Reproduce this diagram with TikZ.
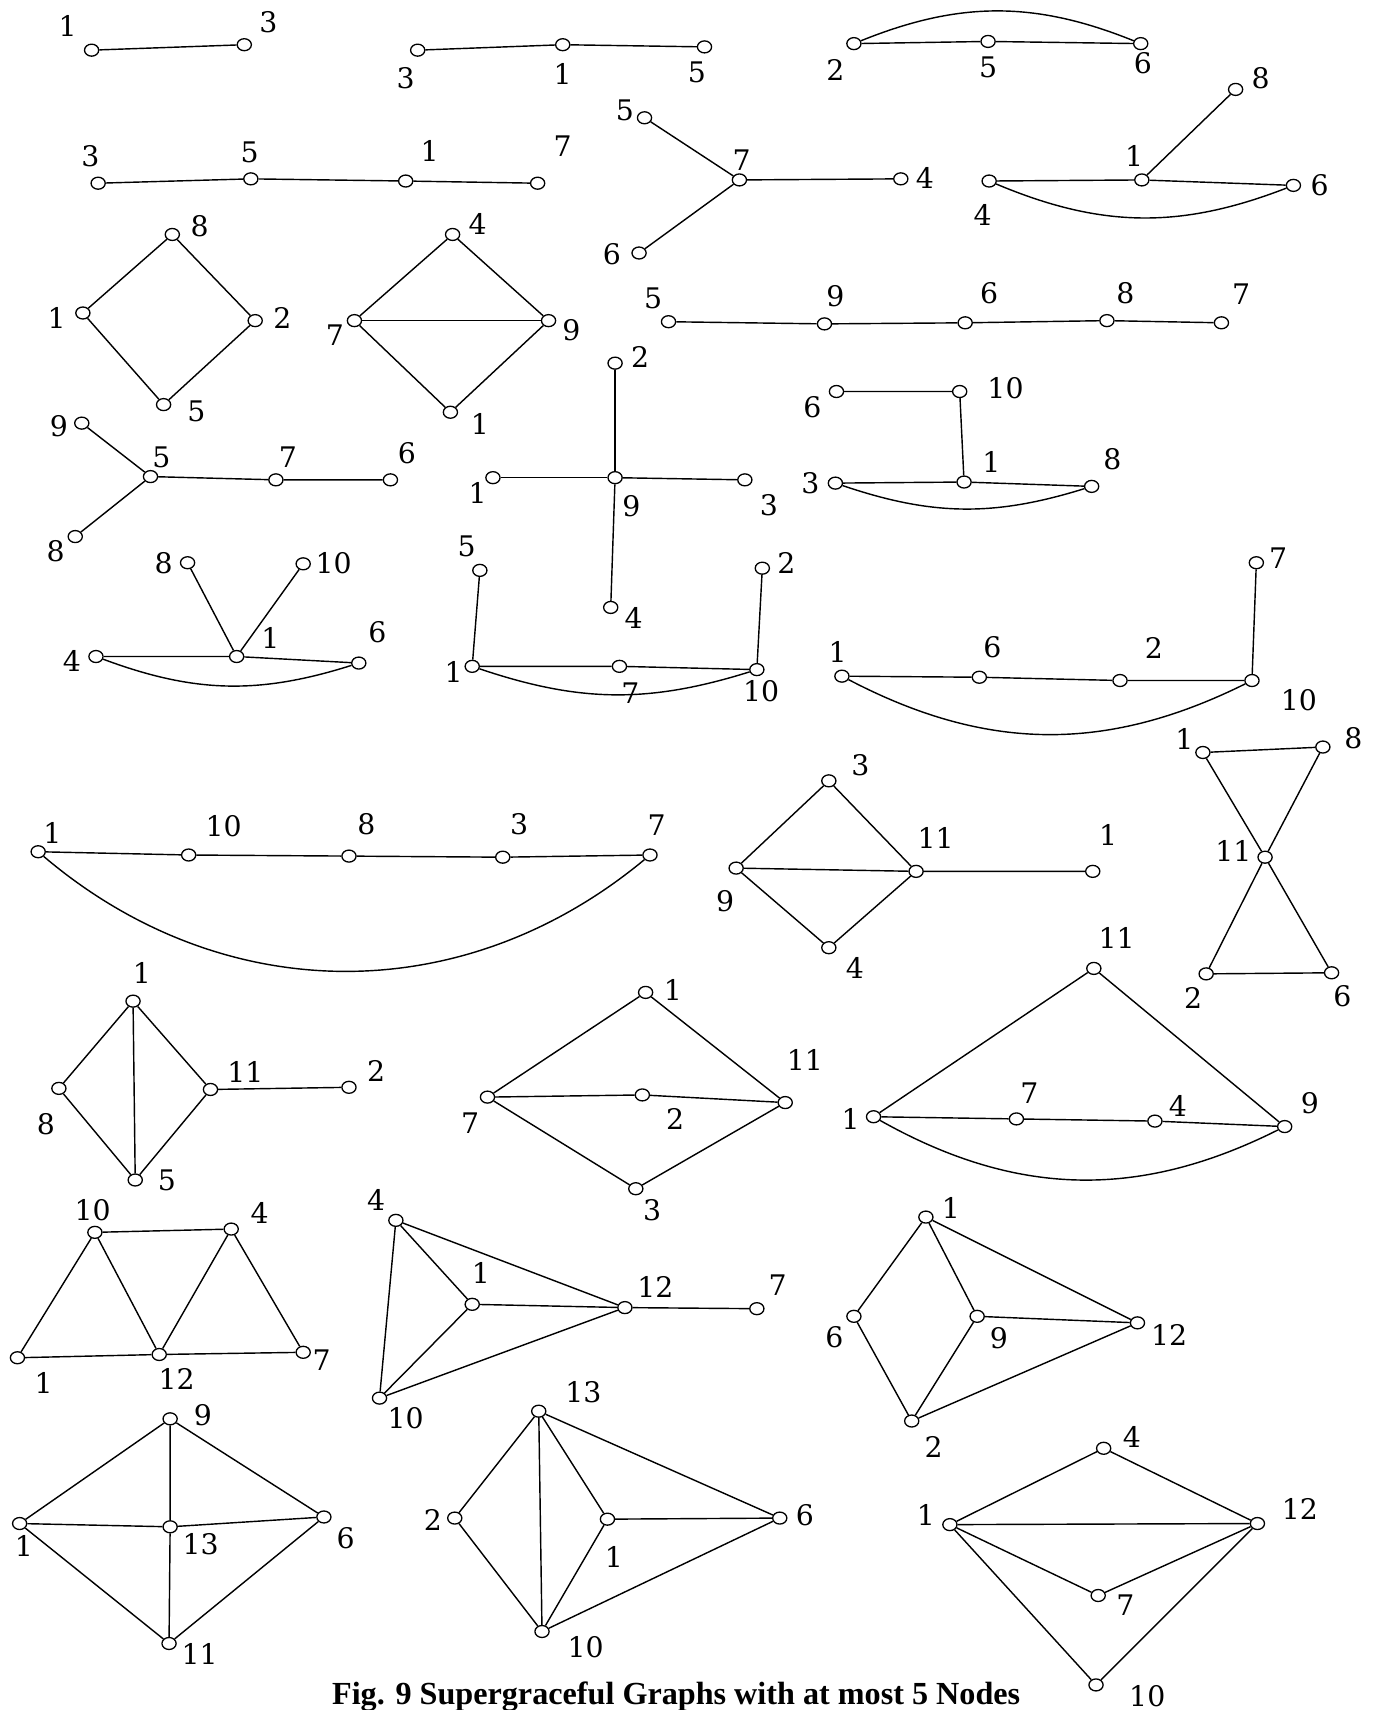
\documentclass[tikz,border=0pt]{standalone}
\usepackage{fontspec}
\usetikzlibrary{shapes.geometric}
\newfontfamily\capfont{Liberation Serif}
\newfontfamily\labfont{DejaVu Serif}
\begin{document}
\begin{tikzpicture}[x=1pt,y=-1pt,
  v/.style={ellipse,draw,fill=white,inner sep=0pt,minimum width=13pt,minimum height=11pt,line width=1.2pt},
  lab/.style={font=\labfont\fontsize{26}{26}\selectfont,inner sep=0pt},
  ed/.style={line width=1.3pt}]
\useasboundingbox (0,0) rectangle (1266,1568);
% G1
\node[v] (a1) at (84,46) {}; \node[v] (a3) at (224,41) {};
\node[lab] at (62,24) {1}; \node[lab] at (246,20) {3};
\draw[ed] (a1) -- (a3);
% G2
\node[v] (b3) at (383,46) {}; \node[v] (b1) at (516,41) {}; \node[v] (b5) at (646,43) {};
\node[lab] at (372,72) {3}; \node[lab] at (516,68) {1}; \node[lab] at (639,66) {5};
\draw[ed] (b3) -- (b1) -- (b5);
% G3
\node[v] (c2) at (783,40) {}; \node[v] (c5) at (906,38) {}; \node[v] (c6) at (1046,40) {};
\node[lab] at (766,64) {2}; \node[lab] at (906,62) {5}; \node[lab] at (1048,58) {6};
\draw[ed] (c2) -- (c5) -- (c6);
\draw[ed] (c2) to[bend left=22] (c6);
% G4
\node[v] (d3) at (90,168) {}; \node[v] (d5) at (230,164) {}; \node[v] (d1) at (372,166) {}; \node[v] (d7) at (493,168) {};
\node[lab] at (83,143) {3}; \node[lab] at (229,140) {5}; \node[lab] at (394,138) {1}; \node[lab] at (516,134) {7};
\draw[ed] (d3) -- (d5) -- (d1) -- (d7);
% G5
\node[v] (e7) at (678,165) {}; \node[v] (e5) at (591,108) {}; \node[v] (e4) at (826,164) {}; \node[v] (e6) at (586,232) {};
\node[lab] at (573,101) {5}; \node[lab] at (680,147) {7}; \node[lab] at (848,163) {4}; \node[lab] at (561,233) {6};
\draw[ed] (e7) -- (e5); \draw[ed] (e7) -- (e4); \draw[ed] (e7) -- (e6);
% G6
\node[v] (f4) at (907,166) {}; \node[v] (f1) at (1047,165) {}; \node[v] (f8) at (1133,82) {}; \node[v] (f6) at (1186,170) {};
\node[lab] at (1156,72) {8}; \node[lab] at (1040,143) {1}; \node[lab] at (1210,170) {6}; \node[lab] at (901,197) {4};
\draw[ed] (f4) -- (f1) -- (f6); \draw[ed] (f1) -- (f8);
\draw[ed] (f4) to[bend right=22] (f6);
% G7
\node[v] (g8) at (158,215) {}; \node[v] (g1) at (76,287) {}; \node[v] (g2) at (234,294) {}; \node[v] (g5) at (150,371) {};
\node[lab] at (183,207) {8}; \node[lab] at (52,292) {1}; \node[lab] at (259,292) {2}; \node[lab] at (180,377) {5};
\draw[ed] (g8) -- (g1) -- (g5) -- (g2) -- (g8);
% G8
\node[v] (h4) at (415,215) {}; \node[v] (h7) at (325,294) {}; \node[v] (h9) at (503,294) {}; \node[v] (h1) at (413,378) {};
\node[lab] at (438,205) {4}; \node[lab] at (307,307) {7}; \node[lab] at (524,303) {9}; \node[lab] at (440,389) {1};
\draw[ed] (h4) -- (h7) -- (h1) -- (h9) -- (h4); \draw[ed] (h7) -- (h9);
% G9
\node[v] (i5) at (613,295) {}; \node[v] (i9) at (756,297) {}; \node[v] (i6) at (885,296) {}; \node[v] (i8) at (1015,294) {}; \node[v] (i7) at (1120,296) {};
\node[lab] at (599,274) {5}; \node[lab] at (766,272) {9}; \node[lab] at (907,269) {6}; \node[lab] at (1032,269) {8}; \node[lab] at (1138,270) {7};
\draw[ed] (i5) -- (i9) -- (i6) -- (i8) -- (i7);
% G10
\node[v] (j5) at (138,437) {}; \node[v] (j9) at (75,388) {}; \node[v] (j7) at (253,440) {}; \node[v] (j6) at (358,440) {}; \node[v] (j8) at (69,492) {};
\node[lab] at (54,391) {9}; \node[lab] at (148,419) {5}; \node[lab] at (264,419) {7}; \node[lab] at (373,416) {6}; \node[lab] at (51,505) {8};
\draw[ed] (j9) -- (j5) -- (j7) -- (j6); \draw[ed] (j5) -- (j8);
% G11
\node[v] (k9) at (564,438) {}; \node[v] (k2) at (564,333) {}; \node[v] (k1) at (452,438) {}; \node[v] (k3) at (683,440) {}; \node[v] (k4) at (560,557) {};
\node[lab] at (587,327) {2}; \node[lab] at (438,452) {1}; \node[lab] at (705,463) {3}; \node[lab] at (579,464) {9}; \node[lab] at (581,567) {4};
\draw[ed] (k9) -- (k2); \draw[ed] (k9) -- (k1); \draw[ed] (k9) -- (k3); \draw[ed] (k9) -- (k4);
% G12
\node[v] (l6) at (767,359) {}; \node[v] (l10) at (880,359) {}; \node[v] (l1) at (884,442) {}; \node[v] (l8) at (1001,446) {}; \node[v] (l3) at (766,443) {};
\node[lab] at (745,373) {6}; \node[lab] at (922,356) {10}; \node[lab] at (909,424) {1}; \node[lab] at (1020,421) {8}; \node[lab] at (743,443) {3};
\draw[ed] (l6) -- (l10) -- (l1); \draw[ed] (l3) -- (l1) -- (l8);
\draw[ed] (l3) to[bend right=18] (l8);
% G13
\node[v] (m4) at (88,602) {}; \node[v] (m1) at (217,602) {}; \node[v] (m6) at (329,608) {}; \node[v] (m8) at (172,516) {}; \node[v] (m10) at (278,517) {};
\node[lab] at (150,516) {8}; \node[lab] at (306,516) {10}; \node[lab] at (248,585) {1}; \node[lab] at (346,580) {6}; \node[lab] at (66,606) {4};
\draw[ed] (m4) -- (m1) -- (m6); \draw[ed] (m1) -- (m8); \draw[ed] (m1) -- (m10);
\draw[ed] (m4) to[bend right=19] (m6);
% G14
\node[v] (n5) at (440,523) {}; \node[v] (n1) at (433,611) {}; \node[v] (n7) at (568,611) {}; \node[v] (n10) at (694,614) {}; \node[v] (n2) at (699,521) {};
\node[lab] at (428,501) {5}; \node[lab] at (416,616) {1}; \node[lab] at (578,636) {7}; \node[lab] at (698,634) {10}; \node[lab] at (721,516) {2};
\draw[ed] (n5) -- (n1) -- (n7) -- (n10) -- (n2);
\draw[ed] (n1) to[bend right=18] (n10);
% G15
\node[v] (o1) at (772,620) {}; \node[v] (o6) at (898,621) {}; \node[v] (o2) at (1027,624) {}; \node[v] (o10) at (1148,624) {}; \node[v] (o7) at (1152,516) {};
\node[lab] at (1172,512) {7}; \node[lab] at (768,598) {1}; \node[lab] at (910,593) {6}; \node[lab] at (1058,594) {2}; \node[lab] at (1191,642) {10};
\draw[ed] (o1) -- (o6) -- (o2) -- (o10) -- (o7);
\draw[ed] (o1) to[bend right=27] (o10);
% G16
\node[v] (p1) at (35,781) {}; \node[v] (p10) at (173,784) {}; \node[v] (p8) at (320,785) {}; \node[v] (p3) at (461,786) {}; \node[v] (p7) at (596,784) {};
\node[lab] at (48,764) {1}; \node[lab] at (205,758) {10}; \node[lab] at (336,756) {8}; \node[lab] at (476,756) {3}; \node[lab] at (602,757) {7};
\draw[ed] (p1) -- (p10) -- (p8) -- (p3) -- (p7);
\draw[ed] (p1) to[bend right=40] (p7);
% G17
\node[v] (q3) at (760,716) {}; \node[v] (q9) at (675,796) {}; \node[v] (q11) at (840,799) {}; \node[v] (q1) at (1002,799) {}; \node[v] (q4) at (760,869) {};
\node[lab] at (789,702) {3}; \node[lab] at (858,768) {11}; \node[lab] at (1016,766) {1}; \node[lab] at (665,826) {9}; \node[lab] at (784,888) {4};
\draw[ed] (q3) -- (q9) -- (q4) -- (q11) -- (q3); \draw[ed] (q9) -- (q11) -- (q1);
% G18
\node[v] (r1) at (1103,690) {}; \node[v] (r8) at (1213,685) {}; \node[v] (r11) at (1160,786) {}; \node[v] (r2) at (1106,893) {}; \node[v] (r6) at (1221,892) {};
\node[lab] at (1086,678) {1}; \node[lab] at (1241,677) {8}; \node[lab] at (1131,780) {11}; \node[lab] at (1094,915) {2}; \node[lab] at (1231,913) {6};
\draw[ed] (r1) -- (r8) -- (r11) -- (r1); \draw[ed] (r11) -- (r2) -- (r6) -- (r11);
% G19
\node[v] (s1) at (122,918) {}; \node[v] (s8) at (54,998) {}; \node[v] (s11) at (193,999) {}; \node[v] (s5) at (124,1082) {}; \node[v] (s2) at (320,997) {};
\node[lab] at (130,892) {1}; \node[lab] at (225,983) {11}; \node[lab] at (345,982) {2}; \node[lab] at (42,1031) {8}; \node[lab] at (153,1082) {5};
\draw[ed] (s1) -- (s8) -- (s5) -- (s11) -- (s1) -- (s5); \draw[ed] (s11) -- (s2);
% G20
\node[v] (t1) at (592,910) {}; \node[v] (t7) at (447,1006) {}; \node[v] (t2) at (589,1004) {}; \node[v] (t11) at (720,1011) {}; \node[v] (t3) at (583,1090) {};
\node[lab] at (617,908) {1}; \node[lab] at (738,972) {11}; \node[lab] at (619,1026) {2}; \node[lab] at (431,1030) {7}; \node[lab] at (598,1110) {3};
\draw[ed] (t1) -- (t7) -- (t3) -- (t11) -- (t1); \draw[ed] (t7) -- (t2) -- (t11);
% G21
\node[v] (u11) at (1003,888) {}; \node[v] (u1) at (801,1024) {}; \node[v] (u7) at (932,1026) {}; \node[v] (u4) at (1059,1028) {}; \node[v] (u9) at (1178,1033) {};
\node[lab] at (1024,860) {11}; \node[lab] at (944,1002) {7}; \node[lab] at (1080,1014) {4}; \node[lab] at (1201,1012) {9}; \node[lab] at (780,1026) {1};
\draw[ed] (u9) -- (u11) -- (u1) -- (u7) -- (u4) -- (u9);
\draw[ed] (u1) to[bend right=28] (u9);
% G22
\node[v] (w10) at (87,1130) {}; \node[v] (w4) at (212,1127) {}; \node[v] (w1) at (16,1245) {}; \node[v] (w12) at (146,1242) {}; \node[v] (w7) at (278,1240) {};
\node[lab] at (85,1110) {10}; \node[lab] at (238,1112) {4}; \node[lab] at (40,1268) {1}; \node[lab] at (162,1264) {12}; \node[lab] at (295,1247) {7};
\draw[ed] (w1) -- (w10) -- (w4) -- (w7) -- (w12) -- (w1); \draw[ed] (w10) -- (w12) -- (w4);
% G23
\node[v] (x4) at (363,1119) {}; \node[v] (x1) at (433,1196) {}; \node[v] (x12) at (573,1199) {}; \node[v] (x7) at (694,1200) {}; \node[v] (x10) at (348,1282) {};
\node[lab] at (345,1100) {4}; \node[lab] at (441,1167) {1}; \node[lab] at (601,1180) {12}; \node[lab] at (713,1178) {7}; \node[lab] at (372,1300) {10};
\draw[ed] (x4) -- (x1) -- (x12) -- (x4) -- (x10) -- (x1); \draw[ed] (x10) -- (x12) -- (x7);
% G24
\node[v] (y1) at (849,1116) {}; \node[v] (y6) at (783,1207) {}; \node[v] (y9) at (896,1207) {}; \node[v] (y12) at (1043,1213) {}; \node[v] (y2) at (836,1303) {};
\node[lab] at (872,1108) {1}; \node[lab] at (765,1226) {6}; \node[lab] at (916,1227) {9}; \node[lab] at (1072,1224) {12}; \node[lab] at (856,1327) {2};
\draw[ed] (y1) -- (y6) -- (y2) -- (y12) -- (y1) -- (y9) -- (y2); \draw[ed] (y9) -- (y12);
% G25
\node[v] (z9) at (156,1301) {}; \node[v] (z1) at (18,1397) {}; \node[v] (z13) at (156,1400) {}; \node[v] (z6) at (297,1391) {}; \node[v] (z11) at (155,1507) {};
\node[lab] at (186,1298) {9}; \node[lab] at (184,1416) {13}; \node[lab] at (317,1410) {6}; \node[lab] at (22,1418) {1}; \node[lab] at (183,1517) {11};
\draw[ed] (z9) -- (z1) -- (z11) -- (z6) -- (z9) -- (z13) -- (z11); \draw[ed] (z1) -- (z13) -- (z6);
% G26
\node[v] (aa13) at (494,1294) {}; \node[v] (aa2) at (417,1392) {}; \node[v] (aa1) at (557,1393) {}; \node[v] (aa6) at (715,1392) {}; \node[v] (aa10) at (497,1496) {};
\node[lab] at (535,1277) {13}; \node[lab] at (397,1394) {2}; \node[lab] at (563,1428) {1}; \node[lab] at (738,1389) {6}; \node[lab] at (537,1510) {10};
\draw[ed] (aa13) -- (aa2) -- (aa10) -- (aa6) -- (aa13) -- (aa10); \draw[ed] (aa13) -- (aa1) -- (aa10); \draw[ed] (aa1) -- (aa6);
% G27
\node[v] (bb1) at (871,1398) {}; \node[v] (bb4) at (1012,1328) {}; \node[v] (bb12) at (1153,1397) {}; \node[v] (bb7) at (1007,1463) {}; \node[v] (bb10) at (1005,1545) {};
\node[lab] at (1038,1318) {4}; \node[lab] at (849,1389) {1}; \node[lab] at (1192,1384) {12}; \node[lab] at (1032,1472) {7}; \node[lab] at (1052,1555) {10};
\draw[ed] (bb1) -- (bb4) -- (bb12) -- (bb1) -- (bb7) -- (bb12) -- (bb10) -- (bb1);
% caption
\node[font=\capfont\bfseries\fontsize{29.5}{30}\selectfont,inner sep=0pt] (cap) at (620,1556) {Fig. 9 Supergraceful Graphs with at most 5 Nodes};
\end{tikzpicture}
\end{document}
